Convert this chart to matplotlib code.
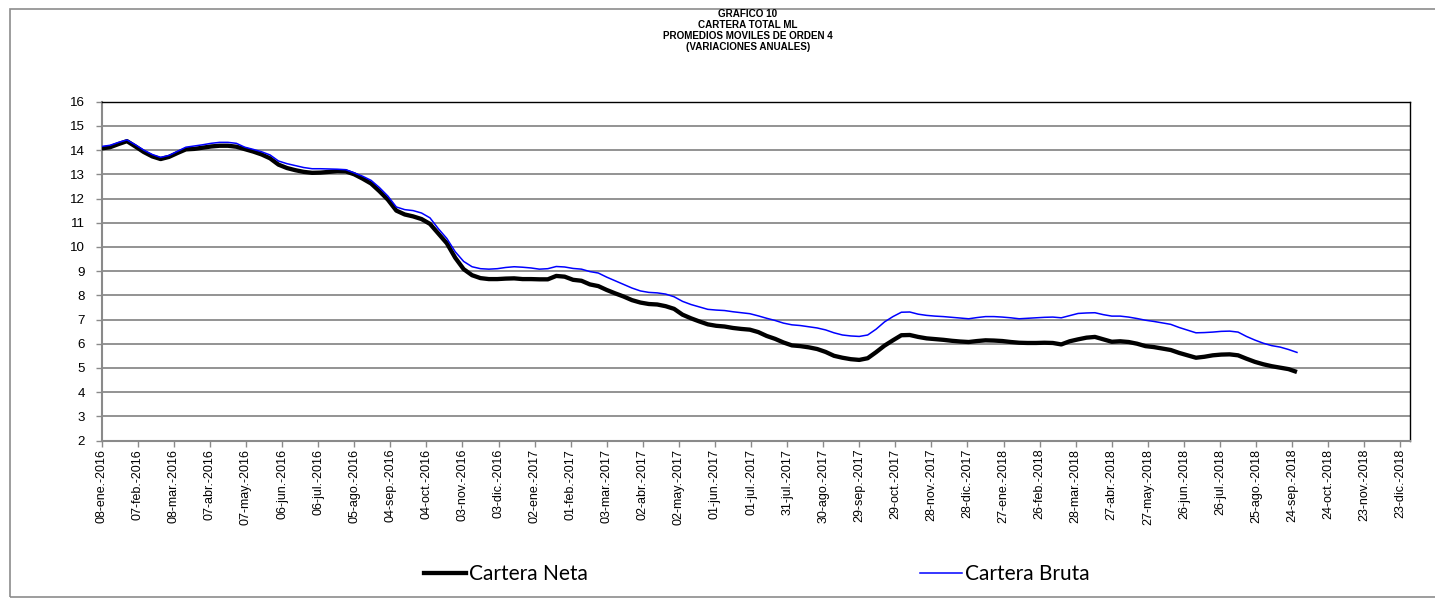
import matplotlib
matplotlib.use("Agg")
import matplotlib.pyplot as plt
from matplotlib.lines import Line2D
from matplotlib.patches import Rectangle
import pandas as pd

# ---------------- data ----------------
start_date = "2016-01-08"          # weekly series (Fridays)
cartera_neta = [
    14.07, 14.12, 14.25, 14.37, 14.15, 13.92, 13.74, 13.63, 13.72, 13.88,
    14.03, 14.05, 14.10, 14.15, 14.18, 14.18, 14.14, 14.04, 13.94, 13.82,
    13.66, 13.40, 13.26, 13.17, 13.10, 13.06, 13.07, 13.10, 13.13, 13.12,
    13.00, 12.82, 12.62, 12.30, 11.95, 11.50, 11.34, 11.26, 11.15, 10.95,
    10.55, 10.15, 9.55, 9.08, 8.83, 8.71, 8.67, 8.67, 8.69, 8.70,
    8.67, 8.67, 8.66, 8.66, 8.80, 8.77, 8.64, 8.60, 8.45, 8.38,
    8.22, 8.08, 7.95, 7.80, 7.70, 7.64, 7.62, 7.55, 7.44, 7.20,
    7.05, 6.92, 6.80, 6.74, 6.71, 6.65, 6.61, 6.58, 6.48, 6.32,
    6.20, 6.05, 5.93, 5.90, 5.85, 5.78, 5.66, 5.50, 5.42, 5.36,
    5.33, 5.40, 5.65, 5.92, 6.14, 6.35, 6.36, 6.28, 6.22, 6.19,
    6.16, 6.12, 6.09, 6.07, 6.11, 6.14, 6.13, 6.11, 6.07, 6.04,
    6.03, 6.03, 6.04, 6.03, 5.97, 6.10, 6.18, 6.25, 6.28, 6.18,
    6.08, 6.10, 6.07, 6.00, 5.90, 5.86, 5.80, 5.74, 5.62, 5.52,
    5.42, 5.46, 5.52, 5.55, 5.56, 5.52, 5.38, 5.25, 5.15, 5.07,
    5.01, 4.95, 4.83,
]
cartera_bruta = [
    14.15, 14.20, 14.32, 14.42, 14.22, 14.00, 13.82, 13.70, 13.78, 13.95,
    14.12, 14.17, 14.22, 14.28, 14.32, 14.32, 14.28, 14.12, 14.03, 13.93,
    13.80, 13.55, 13.44, 13.36, 13.28, 13.23, 13.23, 13.22, 13.21, 13.19,
    13.06, 12.92, 12.75, 12.45, 12.10, 11.65, 11.54, 11.50, 11.40, 11.20,
    10.75, 10.35, 9.80, 9.40, 9.18, 9.10, 9.08, 9.10, 9.15, 9.18,
    9.16, 9.13, 9.08, 9.10, 9.19, 9.17, 9.11, 9.08, 8.98, 8.92,
    8.75, 8.60, 8.45, 8.30, 8.18, 8.12, 8.10, 8.05, 7.94, 7.75,
    7.62, 7.52, 7.42, 7.39, 7.37, 7.32, 7.28, 7.24, 7.15, 7.05,
    6.96, 6.85, 6.78, 6.75, 6.70, 6.65, 6.57, 6.45, 6.36, 6.32,
    6.30, 6.36, 6.60, 6.90, 7.12, 7.30, 7.31, 7.22, 7.17, 7.14,
    7.12, 7.09, 7.06, 7.03, 7.08, 7.12, 7.12, 7.10, 7.07, 7.03,
    7.05, 7.07, 7.09, 7.10, 7.07, 7.16, 7.25, 7.27, 7.28, 7.20,
    7.14, 7.14, 7.10, 7.04, 6.97, 6.92, 6.86, 6.80, 6.67, 6.56,
    6.45, 6.46, 6.48, 6.51, 6.52, 6.48, 6.30, 6.15, 6.02, 5.92,
    5.86, 5.76, 5.64,
]
meses = ["ene", "feb", "mar", "abr", "may", "jun",
         "jul", "ago", "sep", "oct", "nov", "dic"]
tick_start = "2016-01-08"
tick_count = 37          # one tick every 30 days
tick_step_days = 30
axis_end = "2018-12-31"
title_lines = ["GRAFICO 10", "CARTERA TOTAL ML",
               "PROMEDIOS MOVILES DE ORDEN 4", "(VARIACIONES ANUALES)"]
serie_labels = ["Cartera Neta", "Cartera Bruta"]

# ---------------- figure ----------------
W, H = 1435, 600
fig = plt.figure(figsize=(W / 100, H / 100), dpi=100)

def fx(px):
    return px / W

def fy(py):
    return 1 - py / H

# chart-area border
fig.patches.append(Rectangle((fx(10), fy(597)), fx(1440), fy(9) - fy(597),
                             transform=fig.transFigure, fill=False,
                             edgecolor="#8c8c8c", linewidth=1.2, zorder=0))

ax_l, ax_r, ax_t, ax_b = 101.7, 1410, 101.7, 440.5
ax = fig.add_axes([fx(ax_l), fy(ax_b), fx(ax_r - ax_l), fy(ax_t) - fy(ax_b)])

dates_n = pd.date_range(start_date, periods=len(cartera_neta), freq="7D")
dates_b = pd.date_range(start_date, periods=len(cartera_bruta), freq="7D")

ax.plot(dates_b, cartera_bruta, color="#0000ff", lw=1.1, zorder=4,
        solid_joinstyle="round")
ax.plot(dates_n, cartera_neta, color="black", lw=3.1, zorder=3,
        solid_joinstyle="round", solid_capstyle="butt")

ticks = pd.date_range(tick_start, periods=tick_count, freq=f"{tick_step_days}D")
ax.set_xlim(pd.Timestamp(tick_start), pd.Timestamp(axis_end))
ax.set_xticks(ticks)
ax.set_xticklabels([f"{d.day:02d}-{meses[d.month - 1]}.-{d.year}" for d in ticks],
                   rotation=90, fontsize=9.0, family="Liberation Sans")

ax.set_ylim(2, 16)
ax.set_yticks(range(2, 17))
ax.set_yticklabels([str(v) for v in range(2, 17)], fontsize=9.6,
                   family="Liberation Sans")
ax.grid(axis="y", color="#8a8a8a", lw=1.3, zorder=1)
ax.set_axisbelow(True)

for s in ["top", "right"]:
    ax.spines[s].set_color("black")
    ax.spines[s].set_linewidth(1.0)
for s in ["left", "bottom"]:
    ax.spines[s].set_color("#8a8a8a")
    ax.spines[s].set_linewidth(1.5)
ax.tick_params(axis="both", direction="out", length=4, width=1, color="#8a8a8a")
ax.tick_params(axis="x", pad=2)
ax.tick_params(axis="y", pad=8)

# title
for i, t in enumerate(title_lines):
    fig.text(fx(748), fy(14 + i * 11), t, ha="center", va="center",
             fontsize=7.1, fontweight="bold", family="Liberation Sans")

# legend (two separate entries, as in the reference)
h1 = Line2D([], [], color="black", lw=3.1)
h2 = Line2D([], [], color="#0000ff", lw=1.1)
leg_kw = dict(frameon=False, handlelength=2.0, handletextpad=0.15,
              prop={"family": "Lato", "size": 15}, borderaxespad=0, borderpad=0)
fig.legend([h1], [serie_labels[0]], loc="center left",
           bbox_to_anchor=(fx(424), fy(574)), **leg_kw)
fig.legend([h2], [serie_labels[1]], loc="center left",
           bbox_to_anchor=(fx(920), fy(574)), **leg_kw)

fig.savefig("out.png", dpi=100)
